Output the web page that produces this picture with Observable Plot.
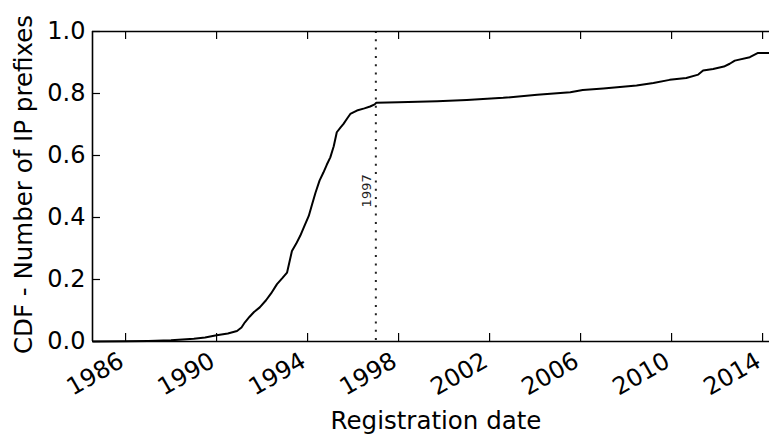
<!DOCTYPE html>
<html>
<head>
<meta charset="utf-8">
<script src="https://cdn.jsdelivr.net/npm/d3@7"></script>
<script src="https://cdn.jsdelivr.net/npm/@observablehq/plot@0.6"></script>
<style>
  html, body { margin: 0; padding: 0; background: #fff; }
  #chart svg { display: block; }
</style>
</head>
<body>
<div id="chart"></div>
<script>
// Registration dates and CDF values
const dates = [
  "1984-08-01","1986-01-01","1987-01-01","1988-01-01","1989-01-01","1989-07-01",
  "1990-01-01","1990-07-01","1990-11-25","1991-02-05","1991-04-01","1991-06-15",
  "1991-08-25","1991-11-25","1992-03-05","1992-05-25","1992-08-28","1992-11-25",
  "1993-02-05","1993-04-25","1993-07-01","1993-09-05","1993-11-05","1994-01-20",
  "1994-03-15","1994-05-08","1994-07-12","1994-09-12","1994-11-05","1995-01-01",
  "1995-02-25","1995-04-15","1995-06-12","1995-08-01","1995-10-01","1995-11-18",
  "1996-03-03","1996-07-01","1996-10-01","1996-12-13","1997-01-08","1998-01-01",
  "1999-09-12","2001-01-01","2002-08-08","2004-02-05","2005-07-20","2006-02-05",
  "2007-01-01","2008-06-18","2009-03-15","2009-12-01","2010-08-25","2011-03-05",
  "2011-05-22","2011-10-30","2012-04-20","2012-07-22","2012-10-12","2013-06-10",
  "2013-10-20","2014-04-22"
];
const cdf = [
  0.000,0.001,0.002,0.004,0.009,0.013,
  0.020,0.026,0.034,0.045,0.062,0.080,
  0.095,0.110,0.133,0.155,0.185,0.205,
  0.222,0.292,0.315,0.341,0.370,0.405,
  0.443,0.480,0.519,0.545,0.570,0.594,
  0.630,0.675,0.690,0.702,0.720,0.734,
  0.745,0.752,0.758,0.765,0.770,0.772,
  0.775,0.779,0.786,0.796,0.804,0.811,
  0.816,0.826,0.834,0.844,0.850,0.861,
  0.874,0.879,0.887,0.896,0.906,0.917,
  0.931,0.931
];
const xTickLabels = ["1986","1990","1994","1998","2002","2006","2010","2014"];
const yTickValues = [0.0, 0.2, 0.4, 0.6, 0.8, 1.0];
const xDomain = ["1984-07-19", "2014-04-22"];
const markerDate = "1997-01-01";
const markerLabel = "1997";
const xLabel = "Registration date";
const yLabel = "CDF - Number of IP prefixes";

const parse = s => new Date(s + "T00:00:00Z");
const data = dates.map((d, i) => ({date: parse(d), value: cdf[i]}));
const xTicks = xTickLabels.map(y => ({date: parse(y + "-01-01"), label: y}));

const W = 769, H = 434;
const mL = 92, mR = 0, mT = 31, mB = 93;
const plotW = W - mL - mR, plotH = H - mT - mB;
const tickLen = 8;

const chart = Plot.plot({
  width: W,
  height: H,
  marginLeft: mL,
  marginRight: mR,
  marginTop: mT,
  marginBottom: mB,
  style: {fontFamily: "DejaVu Sans, sans-serif", background: "#fff", overflow: "visible"},
  x: {type: "utc", domain: xDomain.map(parse), axis: null},
  y: {domain: [0, 1], axis: null},
  marks: [
    // dotted marker line
    Plot.ruleX([parse(markerDate)], {stroke: "#222", strokeWidth: 2, strokeDasharray: "2,6.3"}),
    Plot.text([markerLabel], {x: () => parse(markerDate), y: () => 0.486, rotate: -90,
      textAnchor: "middle", lineAnchor: "bottom", dx: -5, fontSize: 13, fill: "#222"}),
    // CDF line
    Plot.line(data, {x: "date", y: "value", stroke: "black", strokeWidth: 2, strokeLinejoin: "round"}),
    // spines
    Plot.ruleY([0, 1], {stroke: "black", strokeWidth: 1.6}),
    Plot.ruleX([parse(xDomain[0])], {stroke: "black", strokeWidth: 1.6}),
    // inward ticks
    Plot.ruleX(xTicks, {x: "date", insetTop: plotH - tickLen, stroke: "black", strokeWidth: 1.2}),
    Plot.ruleX(xTicks, {x: "date", insetBottom: plotH - tickLen, stroke: "black", strokeWidth: 1.2}),
    Plot.ruleY(yTickValues, {insetRight: plotW - tickLen, stroke: "black", strokeWidth: 1.2}),
    // tick labels
    Plot.text(xTicks, {x: "date", frameAnchor: "bottom", text: "label", rotate: -30,
      textAnchor: "end", lineAnchor: "bottom", dy: 24, dx: 0, fontSize: 24, fill: "black"}),
    Plot.text(yTickValues, {y: d => d, frameAnchor: "left", text: d => d.toFixed(1),
      textAnchor: "end", lineAnchor: "middle", dx: -7, fontSize: 24, fill: "black"}),
    // axis labels
    Plot.text([xLabel], {frameAnchor: "bottom", textAnchor: "middle", lineAnchor: "bottom",
      dy: 87, dx: 5, fontSize: 24.5, fill: "black"}),
    Plot.text([yLabel], {frameAnchor: "left", rotate: -90, textAnchor: "middle", lineAnchor: "bottom",
      dx: -61, dy: -2, fontSize: 24.5, fill: "black"})
  ]
});
document.getElementById("chart").appendChild(chart);
</script>
</body>
</html>
